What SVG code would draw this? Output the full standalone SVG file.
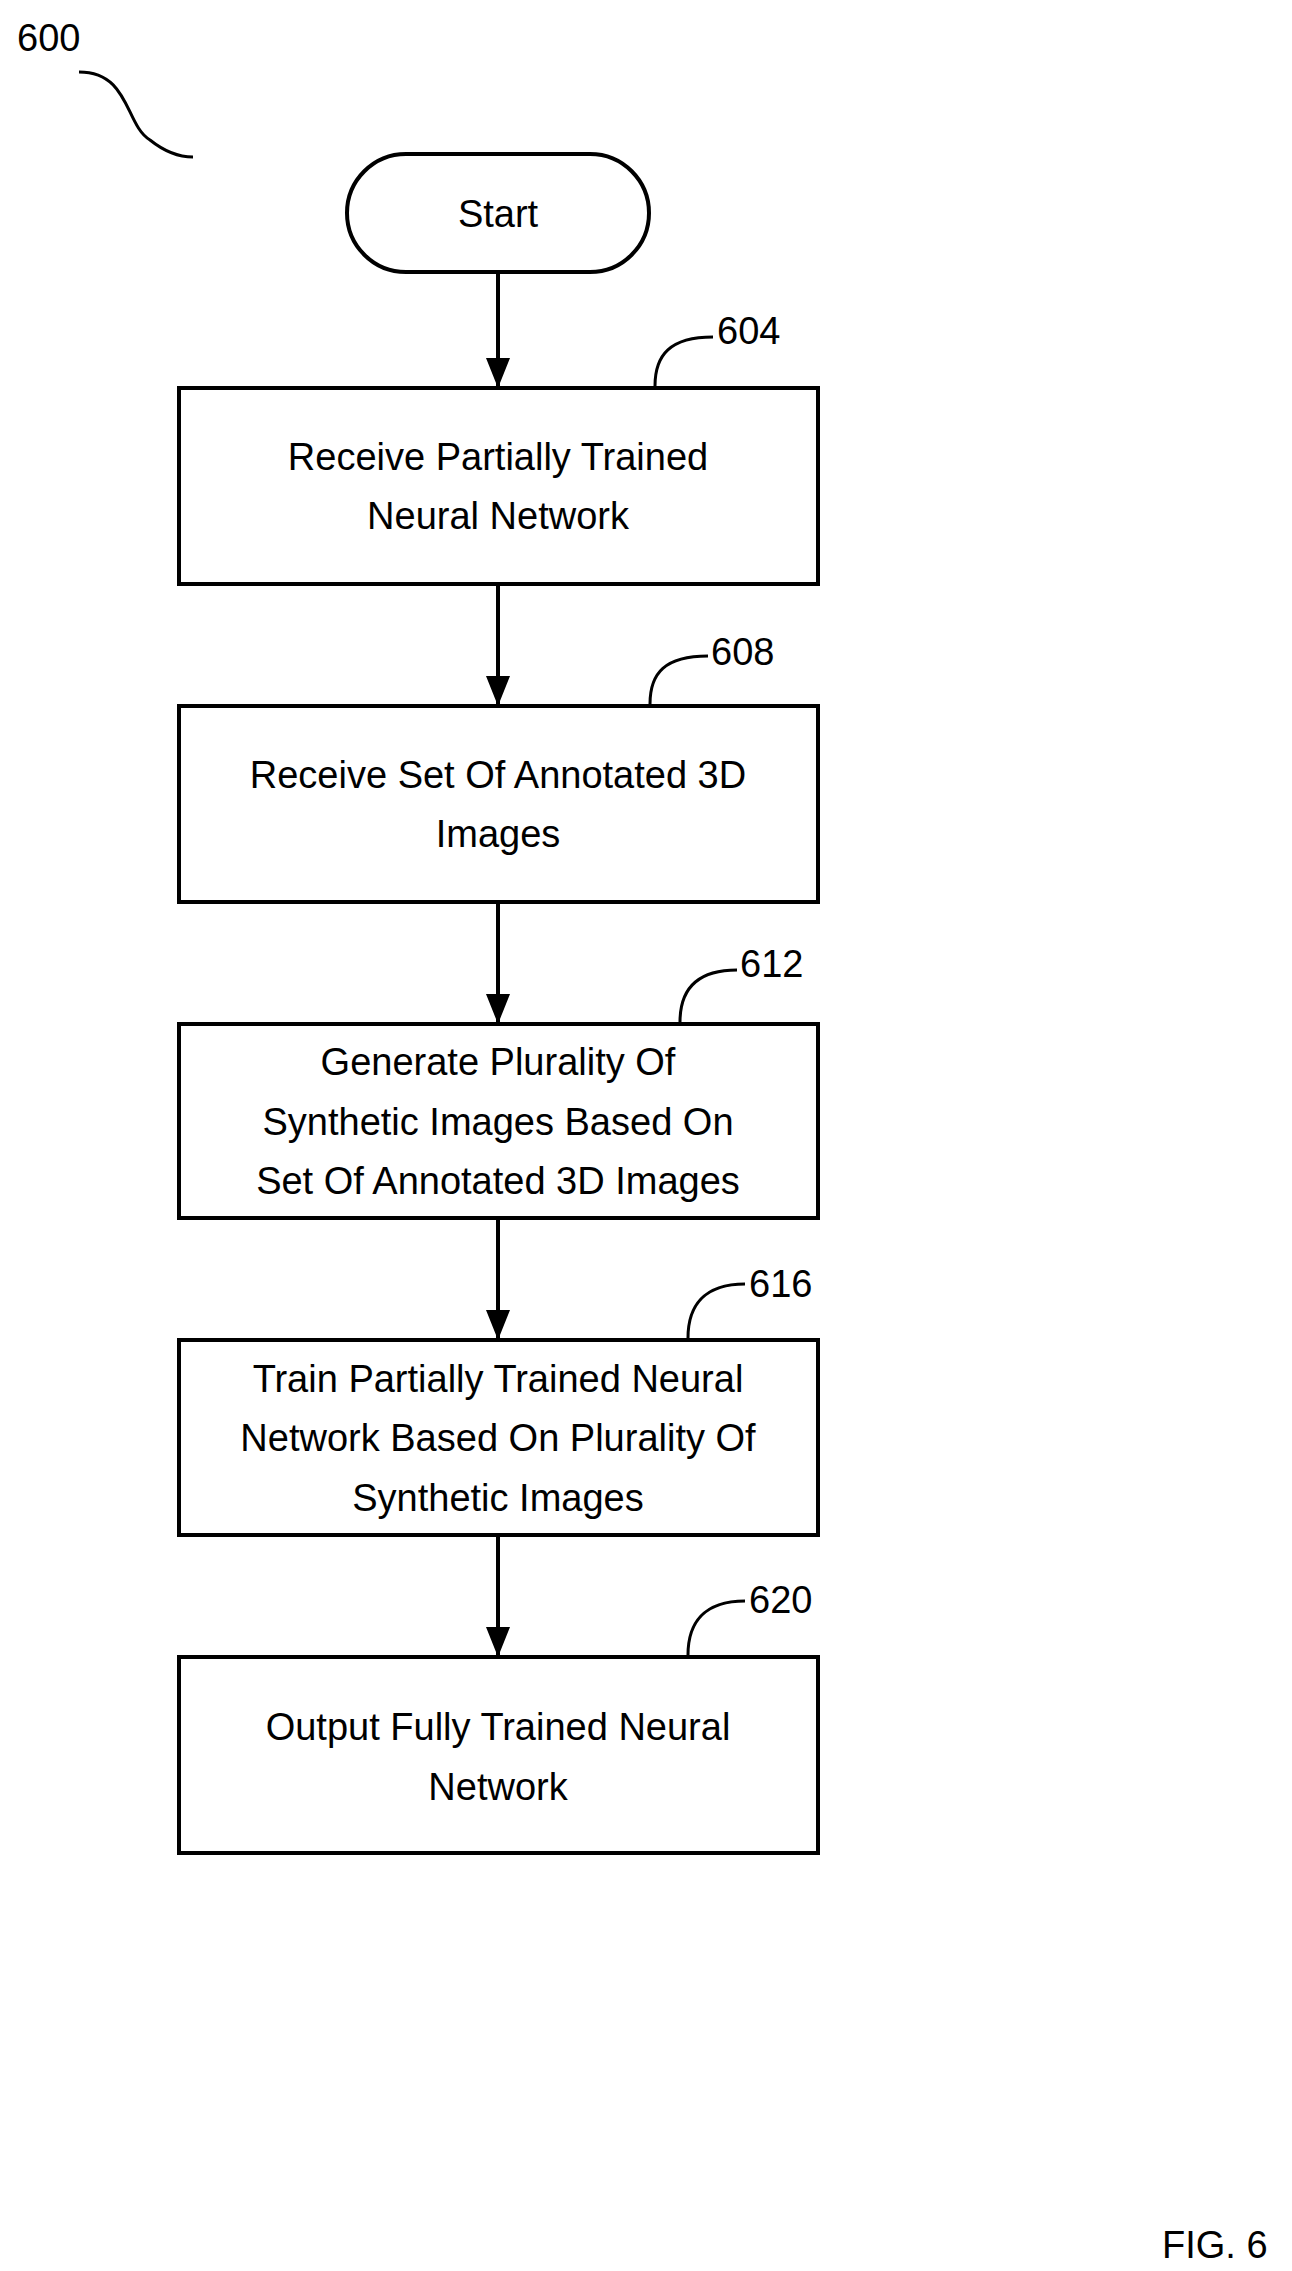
<svg xmlns="http://www.w3.org/2000/svg" width="1292" height="2271" viewBox="0 0 1292 2271">
<style>
.n{fill:#fff;stroke:#000;stroke-width:4}
.t{font-family:"Liberation Sans",Arial,sans-serif;font-size:38px;text-anchor:middle;fill:#000}
.l{font-family:"Liberation Sans",Arial,sans-serif;font-size:38px;fill:#000}
.c{fill:none;stroke:#000;stroke-width:4}
.ld{fill:none;stroke:#000;stroke-width:3}
</style>
<defs><marker id="a" markerWidth="10" markerHeight="12" refX="10" refY="6" orient="auto" markerUnits="userSpaceOnUse" viewBox="0 0 10 12"><path d="M0,0L10,6L0,12Z" fill="#000"/></marker>
<marker id="ah" viewBox="0 0 30 24" refX="30" refY="12" markerWidth="30" markerHeight="24" orient="auto" markerUnits="userSpaceOnUse"><path d="M0,0L30,12L0,24Z" fill="#000"/></marker></defs>
<text class="l" x="17" y="51">600</text>
<path class="ld" d="M79,72 C130,72 125,125 150,140 C165,152 178,157 193,157"/>
<g id="connectors">
<path class="c" d="M498,272V388" marker-end="url(#ah)"/>
<path class="c" d="M498,584V706" marker-end="url(#ah)"/>
<path class="c" d="M498,902V1024" marker-end="url(#ah)"/>
<path class="c" d="M498,1218V1340" marker-end="url(#ah)"/>
<path class="c" d="M498,1535V1657" marker-end="url(#ah)"/>
</g>
<g id="start"><rect class="n" x="347" y="154" width="302" height="118" rx="59"/><text class="t" x="498" y="227">Start</text></g>
<g id="n604"><rect class="n" x="179" y="388" width="639" height="196"/><text class="t" x="498" y="470">Receive Partially Trained</text><text class="t" x="498" y="529">Neural Network</text>
<path class="ld" d="M655,386 C655,355 670,337 713,337"/><text class="l" x="717" y="344">604</text></g>
<g id="n608"><rect class="n" x="179" y="706" width="639" height="196"/><text class="t" x="498" y="788">Receive Set Of Annotated 3D</text><text class="t" x="498" y="847">Images</text>
<path class="ld" d="M650,704 C650,673 665,656 708,656"/><text class="l" x="711" y="665">608</text></g>
<g id="n612"><rect class="n" x="179" y="1024" width="639" height="194"/><text class="t" x="498" y="1075">Generate Plurality Of</text><text class="t" x="498" y="1135">Synthetic Images Based On</text><text class="t" x="498" y="1194">Set Of Annotated 3D Images</text>
<path class="ld" d="M680,1022 C680,991 695,970 737,970"/><text class="l" x="740" y="977">612</text></g>
<g id="n616"><rect class="n" x="179" y="1340" width="639" height="195"/><text class="t" x="498" y="1392">Train Partially Trained Neural</text><text class="t" x="498" y="1451">Network Based On Plurality Of</text><text class="t" x="498" y="1511">Synthetic Images</text>
<path class="ld" d="M688,1338 C688,1307 703,1284 745,1284"/><text class="l" x="749" y="1297">616</text></g>
<g id="n620"><rect class="n" x="179" y="1657" width="639" height="196"/><text class="t" x="498" y="1740">Output Fully Trained Neural</text><text class="t" x="498" y="1800">Network</text>
<path class="ld" d="M688,1655 C688,1624 703,1601 745,1601"/><text class="l" x="749" y="1613">620</text></g>
<text class="l" x="1162" y="2258">FIG. 6</text>
</svg>
